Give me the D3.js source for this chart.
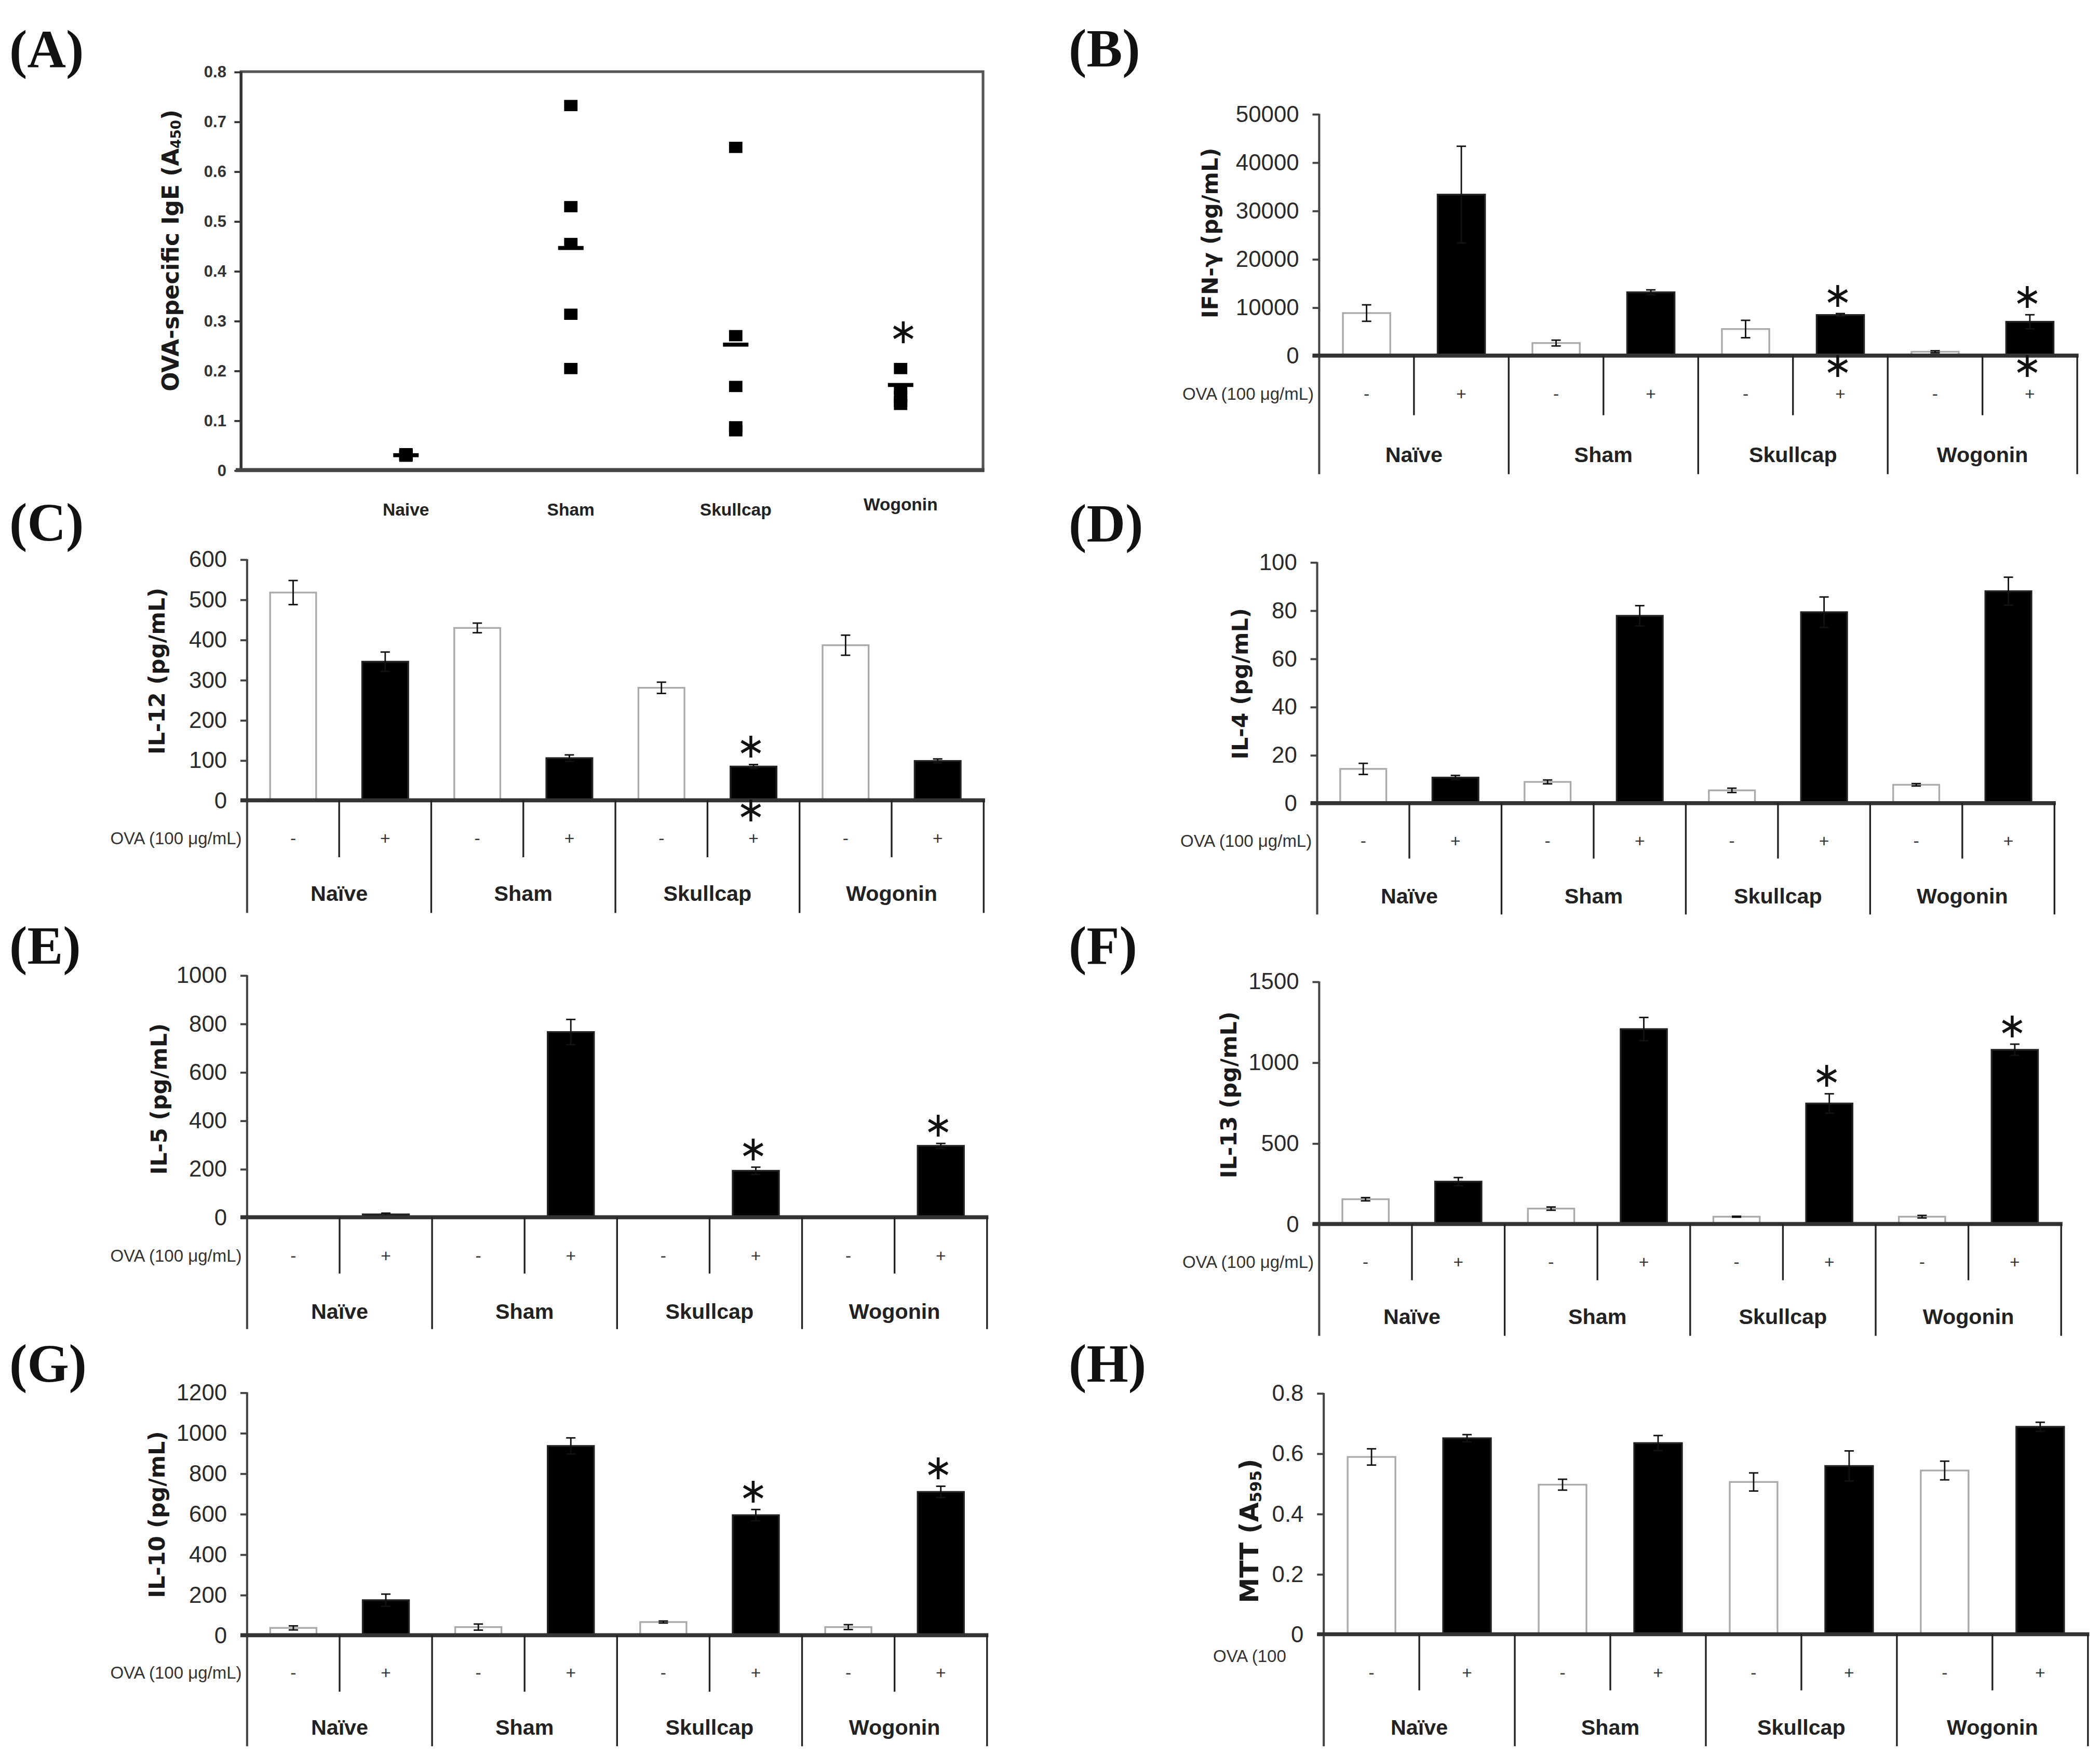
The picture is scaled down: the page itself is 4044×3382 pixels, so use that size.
<!DOCTYPE html>
<html>
<head>
<meta charset="utf-8">
<script src="https://cdn.jsdelivr.net/npm/d3@7/dist/d3.min.js"></script>
<style>
  html, body { margin: 0; padding: 0; background: #fff; }
  svg { display: block; }
</style>
</head>
<body>
<div id="figure"></div>
<script>
// ---- values ----
const groupNames = ["Naïve", "Sham", "Skullcap", "Wogonin"];
const ovaSigns = ["-", "+", "-", "+", "-", "+", "-", "+"];

// (A) OVA-specific IgE, one value per mouse + group mean
const igeGroups = ["Naive", "Sham", "Skullcap", "Wogonin"];
const igeNaive = [0.028, 0.030, 0.031, 0.029, 0.033];
const igeSham = [0.732, 0.529, 0.455, 0.313, 0.204];
const igeSkullcap = [0.648, 0.270, 0.168, 0.087, 0.079];
const igeWogonin = [0.204, 0.163, 0.148, 0.138, 0.132];
const igeMeans = [0.030, 0.446, 0.252, 0.171];
const igeTicks = [0, 0.1, 0.2, 0.3, 0.4, 0.5, 0.6, 0.7, 0.8];
const igeStars = [3];

// bar panels: order is Naive -, Naive +, Sham -, Sham +, Skullcap -, Skullcap +, Wogonin -, Wogonin +
const ifnValues = [8800, 33300, 2600, 13100, 5500, 8400, 800, 7000];
const ifnErrors = [1700, 10000, 600, 500, 1800, 300, 200, 1450];
const ifnTicks = [0, 10000, 20000, 30000, 40000, 50000];
const ifnStars = [5, 7];
const ifnStarsBelow = [5, 7];

const il12Values = [517, 345, 429, 105, 280, 84, 386, 98];
const il12Errors = [30, 24, 12, 8, 14, 5, 25, 5];
const il12Ticks = [0, 100, 200, 300, 400, 500, 600];
const il12Stars = [5];
const il12StarsBelow = [5];

const il4Values = [14.2, 10.6, 8.8, 77.7, 5.3, 79.2, 7.6, 87.9];
const il4Errors = [2.3, 0.9, 0.8, 4.2, 0.9, 6.3, 0.5, 5.8];
const il4Ticks = [0, 20, 40, 60, 80, 100];

const il5Values = [2, 12, 2, 765, 0.5, 192, 0.5, 295];
const il5Errors = [1, 5, 1, 52, 0, 15, 0, 10];
const il5Ticks = [0, 200, 400, 600, 800, 1000];
const il5Stars = [5, 7];

const il13Values = [153, 262, 95, 1205, 45, 745, 45, 1077];
const il13Errors = [10, 25, 10, 72, 3, 60, 8, 35];
const il13Ticks = [0, 500, 1000, 1500];
const il13Stars = [5, 7];

const il10Values = [36, 173, 40, 935, 65, 593, 40, 708];
const il10Errors = [10, 30, 15, 40, 5, 28, 12, 28];
const il10Ticks = [0, 200, 400, 600, 800, 1000, 1200];
const il10Stars = [5, 7];

const mttValues = [0.588, 0.650, 0.496, 0.634, 0.505, 0.558, 0.543, 0.688];
const mttErrors = [0.027, 0.012, 0.018, 0.025, 0.03, 0.05, 0.031, 0.015];
const mttTicks = [0, 0.2, 0.4, 0.6, 0.8];

// ---- drawing ----
const svg = d3.select("#figure").append("svg")
    .attr("width", 4044)
    .attr("height", 3382)
    .attr("viewBox", "0 0 1568 1311")
    .attr("preserveAspectRatio", "none");

const SANS = "'Liberation Sans', Arial, sans-serif";
const TITLE = "'DejaVu Sans', sans-serif";

function panelLabel(text, x, y) {
    svg.append("text")
        .attr("x", x).attr("y", y)
        .attr("font-family", "'Liberation Serif', 'Times New Roman', serif")
        .attr("font-weight", "bold")
        .attr("font-size", 40)
        .attr("fill", "#111")
        .text(text);
}

function star(g, x, y) {
    g.append("text")
        .attr("x", x).attr("y", y)
        .attr("text-anchor", "middle")
        .attr("dominant-baseline", "central")
        .attr("font-family", TITLE)
        .attr("font-size", 26)
        .attr("fill", "#111")
        .text("\u2217");
}

function yTitle(g, x, y, main, sub, size) {
    const t = g.append("text")
        .attr("transform", `translate(${x},${y}) rotate(-90)`)
        .attr("text-anchor", "middle")
        .attr("dominant-baseline", "central")
        .attr("font-family", TITLE)
        .attr("font-weight", "bold")
        .attr("font-size", size)
        .attr("fill", "#1a1a1a");
    t.append("tspan").text(main);
    if (sub) {
        t.append("tspan").attr("font-size", size * 0.6).attr("dy", size * 0.25).text(sub);
        t.append("tspan").attr("dy", -size * 0.25).text(")");
    }
}

// panel A - scatter of individual mice
function drawIge() {
    const g = svg.append("g");
    const x = d3.scaleLinear().domain([0, 4.5]).range([180, 734]);
    const y = d3.scaleLinear().domain([0, 0.8]).range([351, 53.5]);
    const igeValues = [igeNaive, igeSham, igeSkullcap, igeWogonin];

    // plot area frame
    g.append("rect")
        .attr("x", x(0)).attr("y", y(0.8))
        .attr("width", x(4.5) - x(0)).attr("height", y(0) - y(0.8))
        .attr("fill", "none").attr("stroke", "#555").attr("stroke-width", 2);

    const axis = g.append("g")
        .attr("transform", `translate(${x(0)},0)`)
        .call(d3.axisLeft(y).tickValues(igeTicks).tickSize(5).tickPadding(6).tickFormat(d => d));
    axis.select(".domain").remove();
    axis.selectAll("line").attr("stroke", "#333").attr("stroke-width", 1.5);
    axis.selectAll("text")
        .attr("font-family", SANS).attr("font-weight", "bold")
        .attr("font-size", 12).attr("fill", "#333");

    g.append("line")
        .attr("x1", x(0)).attr("x2", x(0)).attr("y1", y(0.8)).attr("y2", y(0))
        .attr("stroke", "#333").attr("stroke-width", 2);
    g.append("line")
        .attr("x1", x(0) - 4).attr("x2", x(4.5) + 1).attr("y1", y(0)).attr("y2", y(0))
        .attr("stroke", "#444").attr("stroke-width", 3);

    const pts = igeValues.flatMap((vals, i) => vals.map(v => ({ i, v })));
    g.selectAll(".pt").data(pts).join("rect")
        .attr("class", "pt")
        .attr("x", d => x(d.i + 1) - 5)
        .attr("y", d => y(d.v) - 4.2)
        .attr("width", 10).attr("height", 8.4)
        .attr("fill", "#000");

    g.selectAll(".mean").data(igeMeans).join("rect")
        .attr("class", "mean")
        .attr("x", (d, i) => x(i + 1) - 9.5)
        .attr("y", d => y(d) - 1.5)
        .attr("width", 19).attr("height", 3)
        .attr("fill", "#000");

    g.selectAll(".glab").data(igeGroups).join("text")
        .attr("class", "glab")
        .attr("x", (d, i) => x(i + 1))
        .attr("y", (d, i) => i === 3 ? 381 : 385)
        .attr("text-anchor", "middle")
        .attr("font-family", SANS).attr("font-weight", "bold")
        .attr("font-size", 13).attr("fill", "#222")
        .text(d => d);

    igeStars.forEach(i => star(g, x(i + 1) + 2, y(d3.max(igeValues[i])) - 28));

    yTitle(g, 127, 187, "OVA-specific IgE (A", "450", 17);
    panelLabel("(A)", 7, 50.5);
}

// bar panels share one layout
function drawBars(p) {
    const g = svg.append("g");
    const x = d3.scaleBand().domain(d3.range(8)).range([p.x0, p.x1])
        .paddingInner(0.5).paddingOuter(0.25);
    const grp = d3.scaleLinear().domain([0, 4]).range([p.x0, p.x1]);
    const y = d3.scaleLinear().domain([0, d3.max(p.ticks)]).range([p.yZero, p.yTop]);
    const bw = x.bandwidth();

    // y axis
    const axis = g.append("g")
        .attr("transform", `translate(${p.x0},0)`)
        .call(d3.axisLeft(y).tickValues(p.ticks).tickSize(5).tickPadding(10).tickFormat(d => d));
    axis.select(".domain").remove();
    axis.selectAll("line").attr("stroke", "#444").attr("stroke-width", 1.5);
    axis.selectAll("text")
        .attr("font-family", SANS).attr("font-size", 17).attr("fill", "#2a2a2a");
    g.append("line")
        .attr("x1", p.x0).attr("x2", p.x0).attr("y1", p.yTop).attr("y2", p.outerBottom)
        .attr("stroke", "#444").attr("stroke-width", 1.6);

    // bars
    const rows = p.values.map((v, i) => ({ i, v, e: p.errors[i] }));
    g.selectAll(".bar").data(rows).join("rect")
        .attr("class", "bar")
        .attr("x", d => x(d.i))
        .attr("y", d => y(d.v))
        .attr("width", bw)
        .attr("height", d => y(0) - y(d.v))
        .attr("fill", d => d.i % 2 ? "#000" : "#fff")
        .attr("stroke", d => d.i % 2 ? "#222" : "#aaa")
        .attr("stroke-width", 1.3);

    // error bars
    const eb = g.selectAll(".err").data(rows.filter(d => d.e > 0)).join("g").attr("class", "err");
    eb.append("line")
        .attr("x1", d => x(d.i) + bw / 2).attr("x2", d => x(d.i) + bw / 2)
        .attr("y1", d => y(Math.max(0, d.v - d.e))).attr("y2", d => y(d.v + d.e));
    eb.append("line")
        .attr("x1", d => x(d.i) + bw / 2 - 3.5).attr("x2", d => x(d.i) + bw / 2 + 3.5)
        .attr("y1", d => y(d.v + d.e)).attr("y2", d => y(d.v + d.e));
    eb.append("line")
        .attr("x1", d => x(d.i) + bw / 2 - 3.5).attr("x2", d => x(d.i) + bw / 2 + 3.5)
        .attr("y1", d => y(Math.max(0, d.v - d.e))).attr("y2", d => y(Math.max(0, d.v - d.e)));
    eb.selectAll("line").attr("stroke", "#111").attr("stroke-width", 1.1);

    // zero line
    g.append("line")
        .attr("x1", p.x0 - 5).attr("x2", p.x1 + 1).attr("y1", y(0)).attr("y2", y(0))
        .attr("stroke", "#333").attr("stroke-width", 3);

    // table below the axis
    g.selectAll(".outer").data(d3.range(1, 5)).join("line")
        .attr("class", "outer")
        .attr("x1", d => grp(d)).attr("x2", d => grp(d))
        .attr("y1", y(0)).attr("y2", p.outerBottom)
        .attr("stroke", "#222").attr("stroke-width", 1.3);
    g.selectAll(".inner").data(d3.range(4)).join("line")
        .attr("class", "inner")
        .attr("x1", d => grp(d + 0.5)).attr("x2", d => grp(d + 0.5))
        .attr("y1", y(0)).attr("y2", p.innerBottom)
        .attr("stroke", "#222").attr("stroke-width", 1.3);

    g.selectAll(".sign").data(ovaSigns).join("text")
        .attr("class", "sign")
        .attr("x", (d, i) => x(i) + bw / 2)
        .attr("y", p.signY)
        .attr("text-anchor", "middle")
        .attr("dominant-baseline", "central")
        .attr("font-family", SANS).attr("font-size", 13).attr("fill", "#333")
        .text(d => d);

    if (p.shortOva) {
        g.append("text")
            .attr("x", 905.8).attr("y", p.ovaY)
            .attr("dominant-baseline", "central")
            .attr("font-family", SANS).attr("font-size", 12.8).attr("fill", "#333")
            .text("OVA (100");
    } else {
        g.append("text")
            .attr("x", p.x0 - 4).attr("y", p.ovaY)
            .attr("text-anchor", "end")
            .attr("dominant-baseline", "central")
            .attr("font-family", SANS).attr("font-size", 12.8).attr("fill", "#333")
            .text("OVA (100 \u03bcg/mL)");
    }

    g.selectAll(".group").data(groupNames).join("text")
        .attr("class", "group")
        .attr("x", (d, i) => grp(i + 0.5))
        .attr("y", p.groupY)
        .attr("text-anchor", "middle")
        .attr("dominant-baseline", "central")
        .attr("font-family", SANS).attr("font-weight", "bold")
        .attr("font-size", 16).attr("fill", "#222")
        .text(d => d);

    (p.stars || []).forEach(i => star(g, x(i) + bw / 2 - 2, y(p.values[i] + p.errors[i]) - 14));
    (p.starsBelow || []).forEach(i => star(g, x(i) + bw / 2 - 2, y(0) + 7));

    yTitle(g, p.titleX, p.titleY, p.title, p.titleSub, p.titleSize);
    panelLabel(p.label, p.lx, p.ly);
}

drawIge();

drawBars({ label: "(B)", lx: 798, ly: 49.5, title: "IFN-\u03b3 (pg/mL)", titleSize: 16.5,
    values: ifnValues, errors: ifnErrors, ticks: ifnTicks, stars: ifnStars, starsBelow: ifnStarsBelow,
    x0: 985, x1: 1551, yTop: 85, yZero: 265.5, innerBottom: 310, outerBottom: 354,
    ovaY: 294, signY: 294, groupY: 339.5, titleX: 903.5, titleY: 174 });

drawBars({ label: "(C)", lx: 7, ly: 403.5, title: "IL-12 (pg/mL)", titleSize: 16.5,
    values: il12Values, errors: il12Errors, ticks: il12Ticks, stars: il12Stars, starsBelow: il12StarsBelow,
    x0: 184.5, x1: 734.5, yTop: 417.5, yZero: 597.5, innerBottom: 640, outerBottom: 681.6,
    ovaY: 626, signY: 626, groupY: 667, titleX: 117, titleY: 501 });

drawBars({ label: "(D)", lx: 798, ly: 404.5, title: "IL-4 (pg/mL)", titleSize: 16.5,
    values: il4Values, errors: il4Errors, ticks: il4Ticks,
    x0: 983.5, x1: 1534, yTop: 419.6, yZero: 599.6, innerBottom: 641, outerBottom: 682.7,
    ovaY: 627.7, signY: 627.7, groupY: 669, titleX: 926, titleY: 510.5 });

drawBars({ label: "(E)", lx: 7, ly: 719.5, title: "IL-5 (pg/mL)", titleSize: 16.5,
    values: il5Values, errors: il5Errors, ticks: il5Ticks, stars: il5Stars,
    x0: 184.5, x1: 737, yTop: 728, yZero: 908.8, innerBottom: 950.8, outerBottom: 992.3,
    ovaY: 937.6, signY: 937.6, groupY: 979, titleX: 118.7, titleY: 820.5 });

drawBars({ label: "(F)", lx: 798, ly: 719.5, title: "IL-13 (pg/mL)", titleSize: 16.5,
    values: il13Values, errors: il13Errors, ticks: il13Ticks, stars: il13Stars,
    x0: 985, x1: 1539, yTop: 732.7, yZero: 913.8, innerBottom: 955.8, outerBottom: 997.3,
    ovaY: 942, signY: 942, groupY: 983.1, titleX: 917.4, titleY: 817.4 });

drawBars({ label: "(G)", lx: 7, ly: 1031.5, title: "IL-10 (pg/mL)", titleSize: 16.5,
    values: il10Values, errors: il10Errors, ticks: il10Ticks, stars: il10Stars,
    x0: 184.5, x1: 737, yTop: 1039.5, yZero: 1220.8, innerBottom: 1263, outerBottom: 1303.7,
    ovaY: 1248.6, signY: 1248.6, groupY: 1289.8, titleX: 117.2, titleY: 1130.8 });

drawBars({ label: "(H)", lx: 798, ly: 1031.5, title: "MTT (A", titleSub: "595", titleSize: 19,
    values: mttValues, errors: mttErrors, ticks: mttTicks, shortOva: true,
    x0: 988.4, x1: 1559, yTop: 1040, yZero: 1220.1, innerBottom: 1262, outerBottom: 1303.7,
    ovaY: 1236.3, signY: 1248.6, groupY: 1289.8, titleX: 933, titleY: 1143 });
</script>
</body>
</html>
